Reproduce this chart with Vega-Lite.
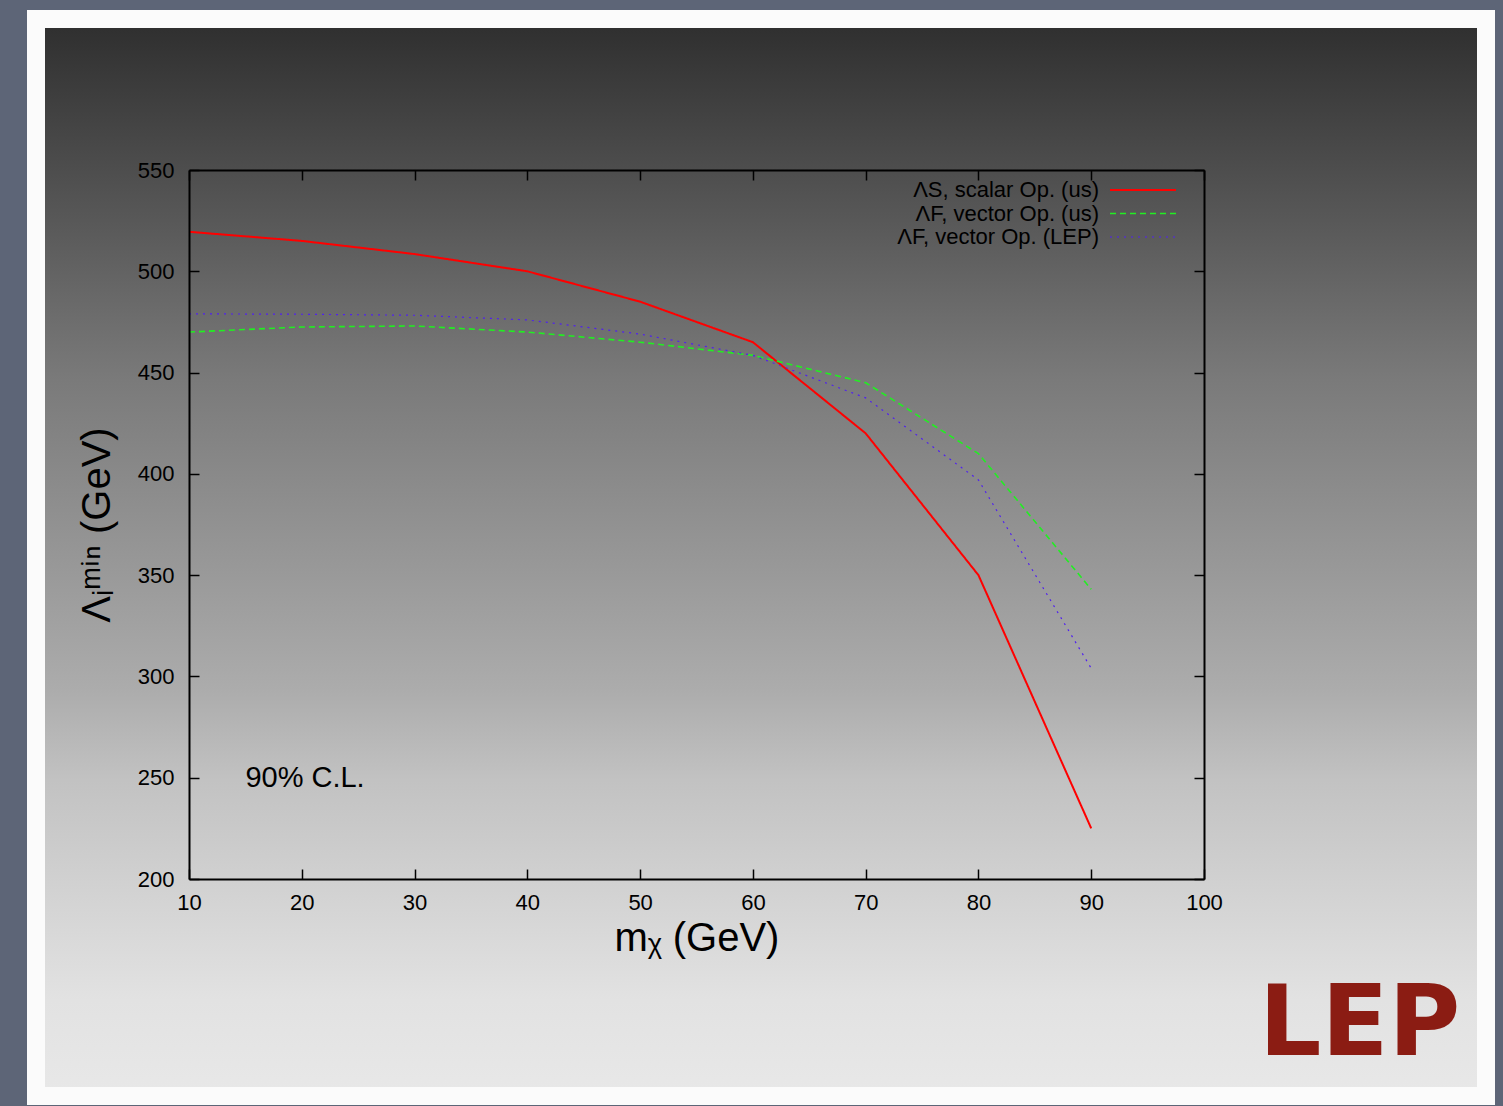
{
  "$schema": "https://vega.github.io/schema/vega-lite/v6.json",
  "width": 1450,
  "height": 1077,
  "autosize": {"type": "none"},
  "padding": {"left": 36, "top": 19, "right": 17, "bottom": 10},
  "background": "#5d6577",
  "config": {
    "view": {"stroke": null},
    "font": "Liberation Sans",
    "axis": {
      "grid": false,
      "domainColor": "black",
      "domainWidth": 2,
      "tickColor": "black",
      "tickWidth": 1.5,
      "tickSize": -10,
      "labelColor": "black",
      "labelFontSize": 22,
      "labelFlush": false,
      "labelOverlap": false,
      "titleColor": "black",
      "titleFontSize": 40,
      "titleFontWeight": "normal"
    },
    "legend": {
      "title": null,
      "labelFontSize": 22,
      "labelColor": "black",
      "labelAlign": "right",
      "labelOffset": -56,
      "labelLimit": 0,
      "symbolType": "M-3,0H3",
      "symbolSize": 484,
      "symbolStrokeWidth": 1.5,
      "rowPadding": 0.5,
      "padding": 0
    }
  },
  "data": {
    "values": [
      {"s": "ΛS, scalar Op. (us)", "m": 10, "v": 519.5},
      {"s": "ΛS, scalar Op. (us)", "m": 20, "v": 515},
      {"s": "ΛS, scalar Op. (us)", "m": 30, "v": 508.5},
      {"s": "ΛS, scalar Op. (us)", "m": 40, "v": 500},
      {"s": "ΛS, scalar Op. (us)", "m": 50, "v": 485},
      {"s": "ΛS, scalar Op. (us)", "m": 60, "v": 465},
      {"s": "ΛS, scalar Op. (us)", "m": 70, "v": 420},
      {"s": "ΛS, scalar Op. (us)", "m": 80, "v": 350},
      {"s": "ΛS, scalar Op. (us)", "m": 90, "v": 225},
      {"s": "ΛF, vector Op. (us)", "m": 10, "v": 470},
      {"s": "ΛF, vector Op. (us)", "m": 20, "v": 472.5},
      {"s": "ΛF, vector Op. (us)", "m": 30, "v": 473},
      {"s": "ΛF, vector Op. (us)", "m": 40, "v": 470},
      {"s": "ΛF, vector Op. (us)", "m": 50, "v": 465},
      {"s": "ΛF, vector Op. (us)", "m": 60, "v": 458.5},
      {"s": "ΛF, vector Op. (us)", "m": 70, "v": 445},
      {"s": "ΛF, vector Op. (us)", "m": 80, "v": 410},
      {"s": "ΛF, vector Op. (us)", "m": 90, "v": 343},
      {"s": "ΛF, vector Op. (LEP)", "m": 10, "v": 479},
      {"s": "ΛF, vector Op. (LEP)", "m": 20, "v": 478.8},
      {"s": "ΛF, vector Op. (LEP)", "m": 30, "v": 478.3},
      {"s": "ΛF, vector Op. (LEP)", "m": 40, "v": 476},
      {"s": "ΛF, vector Op. (LEP)", "m": 50, "v": 469},
      {"s": "ΛF, vector Op. (LEP)", "m": 60, "v": 458.5},
      {"s": "ΛF, vector Op. (LEP)", "m": 70, "v": 437.5},
      {"s": "ΛF, vector Op. (LEP)", "m": 80, "v": 397},
      {"s": "ΛF, vector Op. (LEP)", "m": 90, "v": 304}
    ]
  },
  "layer": [
    {
      "data": {"values": [{}]},
      "mark": {
        "type": "rect",
        "fill": {
          "gradient": "linear",
          "x1": 0, "y1": 0, "x2": 0, "y2": 1,
          "stops": [
            {"offset": 0, "color": "#2e2e2e"},
            {"offset": 0.187, "color": "#585858"},
            {"offset": 0.335, "color": "#7a7a7a"},
            {"offset": 0.623, "color": "#acacac"},
            {"offset": 0.707, "color": "#c2c2c2"},
            {"offset": 0.911, "color": "#e2e2e2"},
            {"offset": 1, "color": "#e8e8e8"}
          ]
        },
        "stroke": "#fbfbfb",
        "strokeWidth": 18
      },
      "encoding": {}
    },
    {
      "mark": {"type": "line", "clip": false},
      "encoding": {
        "x": {
          "field": "m", "type": "quantitative",
          "scale": {"domain": [10, 100], "range": [153, 1168], "nice": false, "zero": false},
          "axis": {
            "orient": "bottom", "offset": -217, "zindex": 1,
            "values": [10, 20, 30, 40, 50, 60, 70, 80, 90, 100],
            "labelPadding": 23,
            "title": "mᵪ (GeV)", "titlePadding": 5
          }
        },
        "y": {
          "field": "v", "type": "quantitative",
          "scale": {"domain": [200, 550], "range": [860, 151], "nice": false, "zero": false},
          "axis": {
            "orient": "left", "offset": -153, "zindex": 1,
            "values": [200, 250, 300, 350, 400, 450, 500, 550],
            "labelPadding": 25,
            "title": "Λᵢᵐⁱⁿ (GeV)", "titlePadding": 20
          }
        },
        "color": {
          "field": "s", "type": "nominal",
          "scale": {
            "domain": ["ΛS, scalar Op. (us)", "ΛF, vector Op. (us)", "ΛF, vector Op. (LEP)"],
            "range": ["#ff0000", "#22ee22", "#5020f0"]
          },
          "legend": {"orient": "none", "legendX": 1095, "legendY": 159, "zindex": 1}
        },
        "strokeDash": {
          "field": "s", "type": "nominal",
          "scale": {
            "domain": ["ΛS, scalar Op. (us)", "ΛF, vector Op. (us)", "ΛF, vector Op. (LEP)"],
            "range": [[1, 0], [6, 4], [2, 5]]
          },
          "legend": {"orient": "none", "legendX": 1095, "legendY": 159, "zindex": 1}
        },
        "strokeWidth": {
          "field": "s", "type": "nominal",
          "scale": {
            "domain": ["ΛS, scalar Op. (us)", "ΛF, vector Op. (us)", "ΛF, vector Op. (LEP)"],
            "range": [2, 1.2, 1.2]
          },
          "legend": null
        }
      }
    },
    {
      "data": {"values": [{"label": "90% C.L."}]},
      "mark": {"type": "text", "align": "left", "baseline": "middle", "fontSize": 29, "color": "black"},
      "encoding": {
        "text": {"field": "label"},
        "x": {
          "datum": 15, "type": "quantitative",
          "axis": {
            "orient": "top", "offset": -151, "zindex": 1,
            "values": [10, 20, 30, 40, 50, 60, 70, 80, 90, 100],
            "labels": false, "title": null
          }
        },
        "y": {
          "datum": 250, "type": "quantitative",
          "axis": {
            "orient": "right", "offset": -282, "zindex": 1,
            "values": [200, 250, 300, 350, 400, 450, 500, 550],
            "labels": false, "title": null
          }
        }
      }
    },
    {
      "data": {"values": [{"label": "LEP"}]},
      "mark": {"type": "text", "align": "center", "baseline": "middle", "fontSize": 98, "font": "DejaVu Sans", "fontWeight": "bold", "color": "#8b1c13"},
      "encoding": {
        "text": {"field": "label"},
        "x": {"datum": 113.8, "type": "quantitative", "axis": null},
        "y": {"datum": 127.5, "type": "quantitative", "axis": null}
      }
    }
  ],
  "resolve": {"axis": {"x": "independent", "y": "independent"}}
}
